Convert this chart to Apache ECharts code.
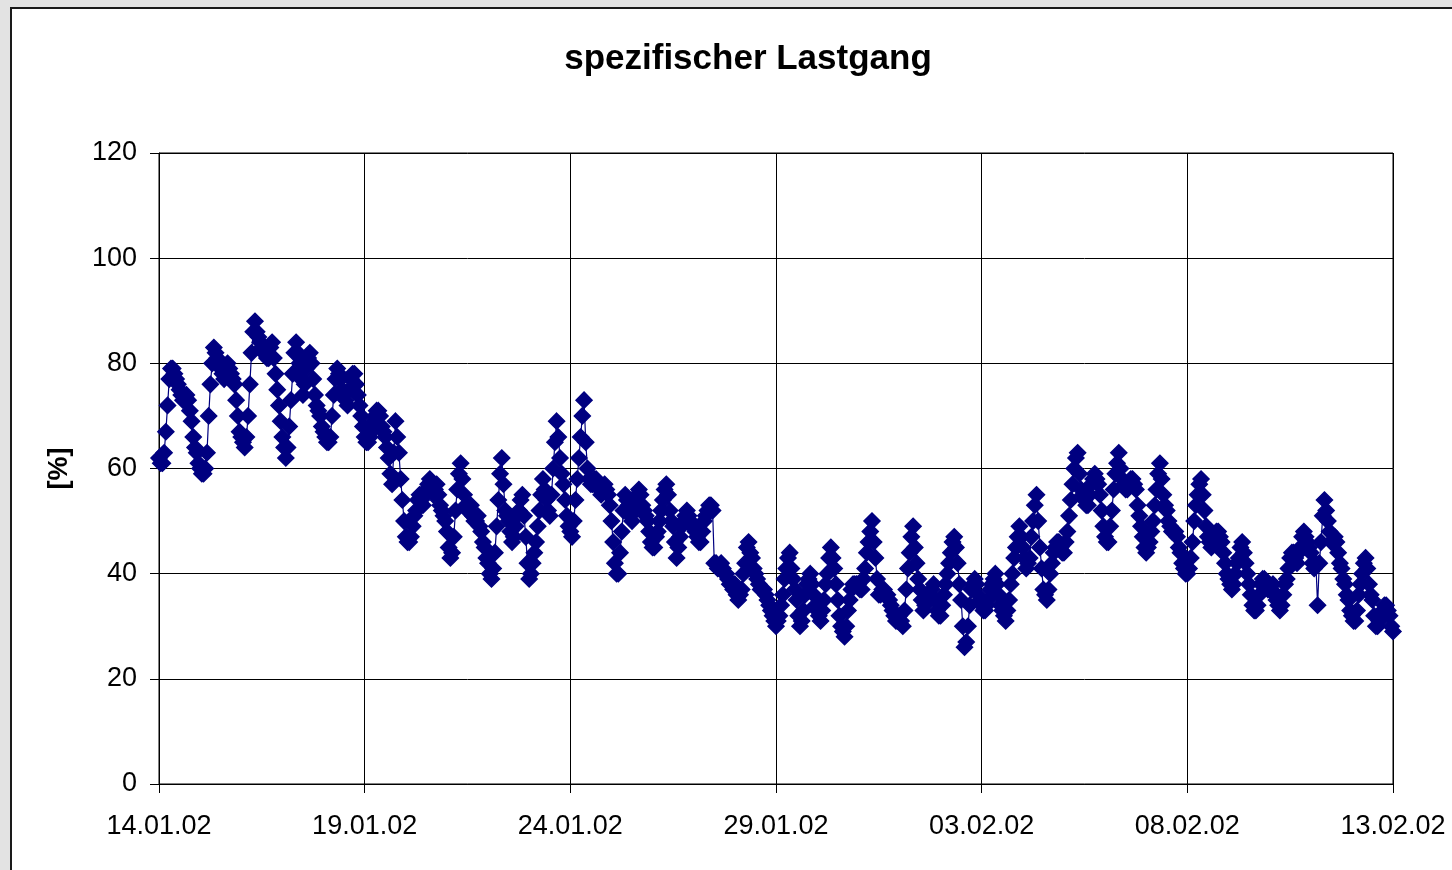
<!DOCTYPE html>
<html>
<head>
<meta charset="utf-8">
<script src="https://cdn.jsdelivr.net/npm/echarts@6/dist/echarts.min.js"></script>
<style>
  html, body { margin: 0; padding: 0; background: #e3e3e3; width: 1452px; height: 870px; overflow: hidden; }
  #frame { position: absolute; left: 10px; top: 7px; width: 1470px; height: 890px; border: 2px solid #1a1a1a; background: #ffffff; }
  #chart { position: absolute; left: 0; top: 0; width: 1452px; height: 870px; }
</style>
</head>
<body>
<div id="frame"></div>
<div id="chart"></div>
<script>
// ---- data ----
const chartTitle = 'spezifischer Lastgang';
const yAxisName = '[%]';
const xTickLabels = ['14.01.02', '19.01.02', '24.01.02', '29.01.02', '03.02.02', '08.02.02', '13.02.02'];
const xTickStepDays = 5;
const yTicks = [0, 20, 40, 60, 80, 100, 120];
const startOffsetHours = -3;   // first sample, hours relative to 14.01.02 00:00
const stepHours = 1;           // hourly values
// load [%], one row per day (00 ... 23 h)
const loadValues = [
  69, 66, 63,
  62,61, 61,63, 67,72, 77,79, 79,78, 77,76, 75,74, 73,73, 74,73, 71,69, 66,64, 63,61,   // 14.01
  60,59, 59,60, 63,70, 76,80, 83,82, 81,80, 79,78, 77,78, 80,79, 78,77, 76,73, 70,67,   // 15.01
  66,65, 64,66, 70,76, 82,86, 88,86, 85,84, 83,82, 82,81, 81,83, 84,81, 78,75, 72,69,   // 16.01
  66,64, 62,64, 68,73, 78,82, 84,82, 80,77, 74,76, 79,81, 82,80, 77,74, 72,71, 70,68,   // 17.01
  67,66, 65,65, 66,70, 74,77, 79,78, 77,75, 74,73, 72,75, 77,78, 78,76, 74,72, 70,68,   // 18.01
  66,65, 65,66, 67,69, 70,71, 71,70, 68,67, 66,64, 62,59, 57,63, 69,66, 63,58, 54,50,   // 19.01
  47,46, 46,47, 49,51, 52,54, 55,54, 53,55, 56,57, 58,56, 55,56, 57,55, 53,52, 51,50,   // 20.01
  48,45, 43,44, 47,52, 56,59, 61,58, 55,53, 52,52, 53,51, 50,50, 51,49, 48,46, 45,43,   // 21.01
  42,40, 39,41, 44,49, 54,59, 62,57, 52,51, 50,48, 46,47, 49,51, 52,54, 55,51, 47,42,   // 22.01
  39,40, 42,44, 46,49, 52,55, 58,56, 54,52, 51,55, 60,65, 69,66, 62,59, 57,54, 51,49,   // 23.01
  48,47, 50,54, 58,62, 66,70, 73,65, 60,58, 57,57, 58,58, 57,56, 55,56, 57,56, 55,53,   // 24.01
  50,46, 42,40, 40,44, 48,52, 55,54, 53,51, 50,52, 54,55, 56,55, 53,52, 51,50, 48,46,   // 25.01
  45,45, 47,48, 50,52, 54,56, 57,55, 52,50, 49,46, 43,45, 47,49, 50,51, 52,51, 50,49,   // 26.01
  49,48, 47,46, 46,48, 50,51, 52,53, 53,52, 42,42, 41,41, 42,41, 40,40, 39,38, 38,37,   // 27.01
  38,36, 35,36, 37,40, 42,45, 46,44, 43,41, 40,39, 38,37, 37,37, 36,35, 34,33, 32,31,   // 28.01
  30,31, 32,34, 36,39, 41,43, 44,41, 39,37, 35,32, 30,31, 33,36, 38,39, 40,38, 36,34,   // 29.01
  33,32, 31,33, 35,38, 40,43, 45,43, 41,38, 35,32, 30,29, 28,30, 33,35, 37,38, 38,38,   // 30.01
  38,37, 37,39, 41,44, 46,48, 50,46, 43,39, 36,36, 37,37, 36,36, 35,34, 33,32, 31,31,   // 31.01
  32,31, 30,33, 37,41, 44,47, 49,45, 42,39, 37,35, 33,34, 35,36, 36,37, 38,35, 33,32,   // 01.02
  32,34, 36,38, 40,42, 44,46, 47,45, 42,38, 35,30, 26,27, 30,34, 37,38, 39,38, 36,35,   // 02.02
  34,33, 33,34, 35,37, 38,39, 40,38, 36,34, 33,32, 31,33, 35,38, 40,43, 45,47, 49,47,   // 03.02
  45,43, 41,42, 43,47, 50,53, 55,50, 45,41, 37,36, 35,37, 40,42, 44,45, 46,46, 45,44,   // 04.02
  44,46, 48,51, 54,57, 60,62, 63,59, 56,55, 54,53, 53,55, 57,58, 59,58, 57,55, 52,49,   // 05.02
  47,46, 46,49, 52,56, 59,61, 63,60, 58,57, 56,56, 57,58, 58,57, 56,53, 51,49, 47,45,   // 06.02
  44,45, 46,48, 50,53, 56,59, 61,58, 55,53, 52,50, 49,48, 48,48, 47,45, 44,42, 41,40,   // 07.02
  40,41, 43,46, 50,53, 55,57, 58,55, 52,49, 47,46, 45,46, 47,48, 48,47, 46,44, 42,40,   // 08.02
  39,38, 37,38, 40,42, 43,45, 46,44, 42,40, 38,36, 34,33, 33,34, 36,38, 39,39, 38,37,   // 09.02
  37,37, 38,36, 35,34, 33,34, 36,38, 39,41, 43,44, 44,43, 42,44, 45,47, 48,47, 46,45,   // 10.02
  44,42, 41,42, 34,42, 46,51, 54,52, 50,48, 46,46, 47,46, 44,42, 41,39, 38,36, 35,33,   // 11.02
  32,31, 31,33, 36,38, 40,42, 43,41, 38,36, 35,32, 30,30, 31,32, 33,34, 34,33, 32,30,   // 12.02
  29, 28, 28, 30, 34                                                                     // 13.02
];

const seriesData = loadValues.map((v, i) => [(startOffsetHours + i * stepHours) / 24, v]);
const xMax = (xTickLabels.length - 1) * xTickStepDays;

const FONT = '"Liberation Sans", Arial, sans-serif';
const chart = echarts.init(document.getElementById('chart'), null, { renderer: 'canvas' });
chart.setOption({
  backgroundColor: 'transparent',
  animation: false,
  title: {
    text: chartTitle,
    left: 743,
    top: 37,
    textAlign: 'center',
    textStyle: { fontFamily: FONT, fontSize: 35, fontWeight: 'bold', color: '#000' }
  },
  grid: { left: 159, top: 153, right: 59, bottom: 86, show: true, borderColor: '#000', borderWidth: 1, backgroundColor: 'transparent' },
  xAxis: {
    type: 'value',
    min: 0,
    max: xMax,
    interval: xTickStepDays,
    axisLine: { show: true, lineStyle: { color: '#000', width: 1 } },
    axisTick: { show: true, inside: false, length: 9, lineStyle: { color: '#000' } },
    splitLine: { show: true, lineStyle: { color: '#000', width: 1 } },
    axisLabel: {
      margin: 29,
      fontFamily: FONT, fontSize: 27, color: '#000',
      formatter: v => xTickLabels[Math.round(v / xTickStepDays)] || ''
    }
  },
  yAxis: {
    type: 'value',
    min: yTicks[0],
    max: yTicks[yTicks.length - 1],
    interval: yTicks[1] - yTicks[0],
    name: yAxisName,
    nameLocation: 'middle',
    nameGap: 86,
    nameTextStyle: { fontFamily: FONT, fontSize: 27, fontWeight: 'bold', color: '#000' },
    axisLine: { show: true, lineStyle: { color: '#000', width: 1 } },
    axisTick: { show: true, inside: false, length: 9, lineStyle: { color: '#000' } },
    splitLine: { show: true, lineStyle: { color: '#000', width: 1 } },
    axisLabel: { margin: 22, fontFamily: FONT, fontSize: 27, color: '#000' }
  },
  series: [
    {
      type: 'line',
      data: seriesData,
      showSymbol: false,
      clip: false,
      lineStyle: { color: '#000080', width: 1.2 },
      z: 2
    },
    {
      type: 'scatter',
      data: seriesData,
      symbol: 'diamond',
      symbolSize: 16,
      clip: true,
      itemStyle: { color: '#000080', borderColor: '#000080', borderWidth: 1.5, opacity: 1 },
      z: 3
    }
  ]
});
</script>
</body>
</html>
